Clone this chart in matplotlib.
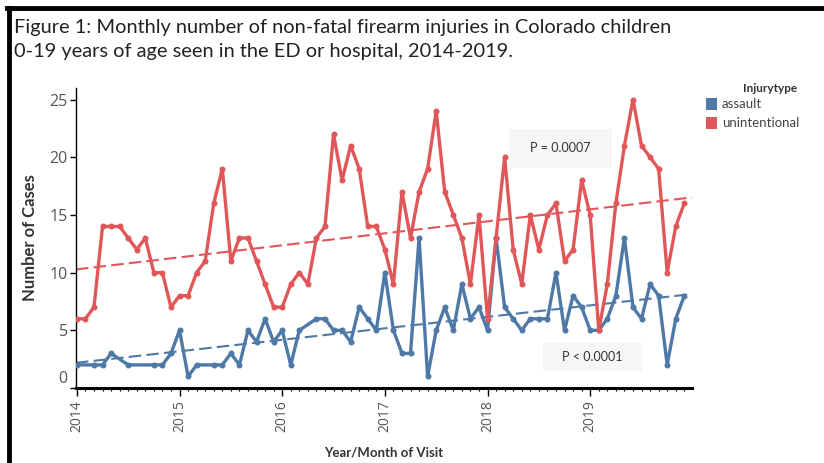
import numpy as np
import matplotlib
matplotlib.use('Agg')
import matplotlib.pyplot as plt
from matplotlib.patches import Rectangle
from matplotlib.transforms import ScaledTranslation

# Monthly counts Jan 2014 .. Dec 2019 (None = no cases recorded that month)
years = [2014, 2015, 2016, 2017, 2018, 2019]
unintentional = [6, 6, 7, 14, 14, 14, 13, 12, 13, 10, 10, 7,
                 8, 8, 10, 11, 16, 19, 11, 13, 13, 11, 9, 7,
                 7, 9, 10, 9, 13, 14, 22, 18, 21, 19, 14, 14,
                 12, 9, 17, 13, 17, 19, 24, 17, 15, 13, 9, 15,
                 6, 13, 20, 12, 9, 15, 12, 15, 16, 11, 12, 18,
                 15, 5, 9, 16, 21, 25, 21, 20, 19, 10, 14, 16]
assault = [2, None, 2, 2, 3, None, 2, None, None, 2, 2, 3,
           5, 1, 2, None, 2, 2, 3, 2, 5, 4, 6, 4,
           5, 2, 5, None, 6, 6, 5, 5, 4, 7, 6, 5,
           10, 5, 3, 3, 13, 1, 5, 7, 5, 9, 6, 7,
           5, 13, 7, 6, 5, 6, 6, 6, 10, 5, 8, 7,
           5, 5, 6, 8, 13, 7, 6, 9, 8, 2, 6, 8]
p_values = {'unintentional': 'P = 0.0007', 'assault': 'P < 0.0001'}

blue = '#4e79a7'
red = '#e15759'
plt.rcParams['font.family'] = ['Lato', 'DejaVu Sans']
W, H = 824, 463

fig = plt.figure(figsize=(W / 100, H / 100), dpi=100)
ax = fig.add_axes([76 / W, 1 - 388 / H, (692 - 76) / W, (388 - 88) / H])

xlim = (-0.1, 71.9)
for vals, col in [(assault, blue), (unintentional, red)]:
    x = np.array([i for i, v in enumerate(vals) if v is not None], dtype=float)
    y = np.array([v for v in vals if v is not None], dtype=float)
    ax.plot(x, y, color=col, lw=2.4, marker='o', ms=3.3, zorder=3)
    # linear trend
    m, b = np.polyfit(x, y, 1)
    xt = np.array(xlim)
    ax.plot(xt, m * xt + b, color=col, lw=1.5, ls=(0, (6, 2.5)), zorder=2)

ax.set_xlim(*xlim)
ax.set_ylim(0, 26)
ax.set_xticks([12 * k for k in range(len(years))])
ax.set_xticklabels([str(y) for y in years], rotation=90, color='#555555',
                   fontsize=10, family=['Open Sans', 'DejaVu Sans'])
ax.set_xticks(range(72), minor=True)
ax.set_yticks(range(0, 26, 5))
ax.set_yticklabels([str(v) for v in range(0, 26, 5)], color='#555555', fontsize=11.5,
                   family=['Open Sans', 'DejaVu Sans'])
ax.tick_params(axis='x', which='major', length=6, width=1, pad=3)
ax.tick_params(axis='x', which='minor', length=2.5, width=0.8)
ax.tick_params(axis='y', length=4, width=1, pad=2)
# Tableau lifts the zero label off the axis
lbl0 = ax.get_yticklabels()[0]
lbl0.set_transform(lbl0.get_transform() + ScaledTranslation(0, 8 / 72, fig.dpi_scale_trans))

for s in ['top', 'right']:
    ax.spines[s].set_visible(False)
ax.spines['left'].set_linewidth(1)
ax.spines['bottom'].set_linewidth(2.2)

ax.set_ylabel('Number of Cases', fontsize=12, fontweight='bold', color='#333333', labelpad=8)
ax.set_xlabel('Year/Month of Visit', fontsize=9.5, fontweight='bold', color='#333333', labelpad=10)


def px_box(x0, y0, x1, y1):
    fig.patches.append(Rectangle((x0 / W, 1 - y1 / H), (x1 - x0) / W, (y1 - y0) / H,
                                 transform=fig.transFigure, facecolor='#f6f6f6',
                                 edgecolor='none', zorder=0))


# p-value boxes
px_box(509, 129, 612, 168)
px_box(543, 343, 642, 371)
fig.text(560 / W, 1 - 148 / H, p_values['unintentional'], fontsize=9, color='#333333',
         ha='center', va='center')
fig.text(592 / W, 1 - 357 / H, p_values['assault'], fontsize=9, color='#333333',
         ha='center', va='center')

# legend
fig.text(797 / W, 1 - 88 / H, 'Injurytype', fontsize=8.5, fontweight='bold',
         color='#333333', ha='right', va='center')
for k, (name, col) in enumerate([('assault', blue), ('unintentional', red)]):
    yc = 104 + 19 * k
    fig.patches.append(Rectangle((706 / W, 1 - (yc + 6) / H), 11 / W, 12 / H,
                                 transform=fig.transFigure, facecolor=col, edgecolor='none'))
    fig.text(722 / W, 1 - yc / H, name, fontsize=9.5, color='#444444', va='center')

# title
fig.text(14 / W, 1 - 27 / H, 'Figure 1: Monthly number of non-fatal firearm injuries in Colorado children',
         fontsize=14.4, color='#222222', va='center')
fig.text(14 / W, 1 - 52 / H, '0-19 years of age seen in the ED or hospital, 2014-2019.',
         fontsize=14.4, color='#222222', va='center')

# frame around the figure
fig.add_artist(plt.Line2D([9 / W, 9 / W], [0, 1 - 8 / H], transform=fig.transFigure,
                          color='black', lw=3.5))
fig.add_artist(plt.Line2D([7 / W, 1], [1 - 8 / H, 1 - 8 / H], transform=fig.transFigure,
                          color='black', lw=3.5))

fig.savefig('out.png', dpi=100)
